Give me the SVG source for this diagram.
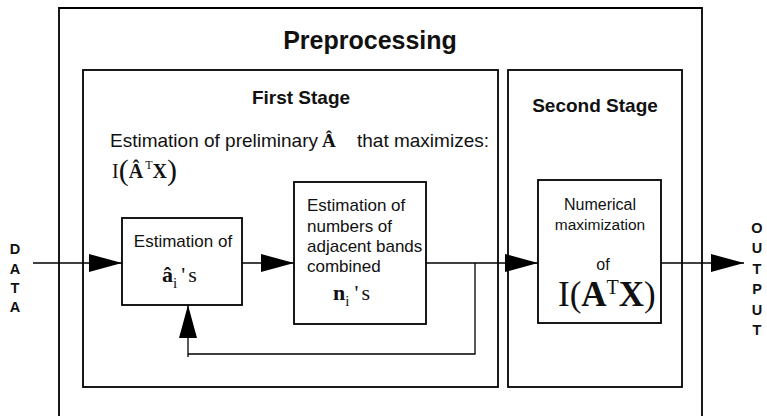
<svg xmlns="http://www.w3.org/2000/svg" width="767" height="416" viewBox="0 0 767 416">
<style>
.box{fill:none;stroke:#000;stroke-width:1.8}
.ln{fill:none;stroke:#000;stroke-width:1.3}
.sans{font-family:"Liberation Sans",Arial,sans-serif;fill:#111}
.serif{font-family:"Liberation Serif","Times New Roman",serif;fill:#111}
.b{font-weight:bold}
.lbl{font-family:"Liberation Sans",Arial,sans-serif;font-weight:bold;font-size:14.5px;text-anchor:middle;fill:#111}
</style>
<defs>
<marker id="ah" markerUnits="userSpaceOnUse" markerWidth="34" markerHeight="20" refX="33" refY="9" orient="auto">
<path d="M0,0 L33,9 L0,18 z" fill="#000"/>
</marker>
</defs>
<rect width="767" height="416" fill="#fff"/>

<g id="preprocessing">
<path class="box" d="M59,418 V8 H702 V418" stroke-width="2"/>
<text class="sans b" x="370" y="49" font-size="25" text-anchor="middle">Preprocessing</text>
</g>

<g id="first-stage">
<rect class="box" x="83" y="70" width="415" height="317"/>
<text class="sans b" x="301" y="104" font-size="19" text-anchor="middle">First Stage</text>
<text class="sans" x="110" y="147" font-size="19">Estimation of preliminary</text>
<text class="serif b" x="322" y="147" font-size="19">Â</text>
<text class="sans" x="357" y="147" font-size="19">that maximizes:</text>
<text class="serif" x="112" y="178" font-size="20"><tspan>I</tspan><tspan font-size="30" dy="2">(</tspan><tspan class="b" dy="-2">Â</tspan><tspan font-size="12" dy="-9" dx="2">T</tspan><tspan class="b" dy="9">X</tspan><tspan font-size="30" dy="2">)</tspan></text>
</g>

<g id="second-stage">
<rect class="box" x="508" y="70" width="174" height="317"/>
<text class="sans b" x="595" y="112" font-size="19" text-anchor="middle">Second Stage</text>
</g>

<g id="estimation-a">
<rect class="box" x="122" y="218" width="120" height="87"/>
<text class="sans" x="183" y="247" font-size="17" text-anchor="middle">Estimation of</text>
<text class="serif" x="162" y="282" font-size="22"><tspan class="b">â</tspan><tspan font-size="15" dy="6">i</tspan><tspan dy="-6" dx="4">'</tspan><tspan dx="3">s</tspan></text>
</g>

<g id="estimation-n">
<rect class="box" x="294" y="182" width="132" height="142"/>
<text class="sans" x="307" y="211" font-size="17">Estimation of</text>
<text class="sans" x="307" y="232" font-size="17">numbers of</text>
<text class="sans" x="307" y="252" font-size="17">adjacent bands</text>
<text class="sans" x="307" y="272" font-size="17">combined</text>
<text class="serif" x="333" y="300" font-size="22"><tspan class="b">n</tspan><tspan font-size="15" dy="6">i</tspan><tspan dy="-6" dx="5">'</tspan><tspan dx="3">s</tspan></text>
</g>

<g id="numerical-max">
<rect class="box" x="538" y="180" width="123" height="143"/>
<text class="sans" x="600" y="210" font-size="16" text-anchor="middle">Numerical</text>
<text class="sans" x="600" y="230" font-size="15.5" text-anchor="middle">maximization</text>
<text class="sans" x="603" y="270" font-size="16" text-anchor="middle">of</text>
<text class="serif" x="558" y="306" font-size="35"><tspan>I(</tspan><tspan class="b">A</tspan><tspan font-size="20" dy="-12">T</tspan><tspan class="b" dy="12">X</tspan><tspan>)</tspan></text>
</g>

<g id="data-label">
<text class="lbl" x="15" y="254">D</text>
<text class="lbl" x="15" y="274">A</text>
<text class="lbl" x="15" y="293">T</text>
<text class="lbl" x="15" y="312">A</text>
</g>

<g id="output-label">
<text class="lbl" x="757" y="233">O</text>
<text class="lbl" x="757" y="253">U</text>
<text class="lbl" x="757" y="274">T</text>
<text class="lbl" x="757" y="294">P</text>
<text class="lbl" x="757" y="315">U</text>
<text class="lbl" x="757" y="335">T</text>
</g>

<g id="connectors">
<line class="ln" x1="33" y1="263" x2="122" y2="263" marker-end="url(#ah)"/>
<line class="ln" x1="242" y1="263" x2="294" y2="263" marker-end="url(#ah)"/>
<line class="ln" x1="426" y1="263" x2="538" y2="263" marker-end="url(#ah)"/>
<line class="ln" x1="661" y1="263" x2="744" y2="263" marker-end="url(#ah)"/>
<polyline class="ln" points="475,263 475,354 188,354"/>
<line class="ln" x1="188" y1="357" x2="188" y2="305" marker-end="url(#ah)"/>
</g>
</svg>
